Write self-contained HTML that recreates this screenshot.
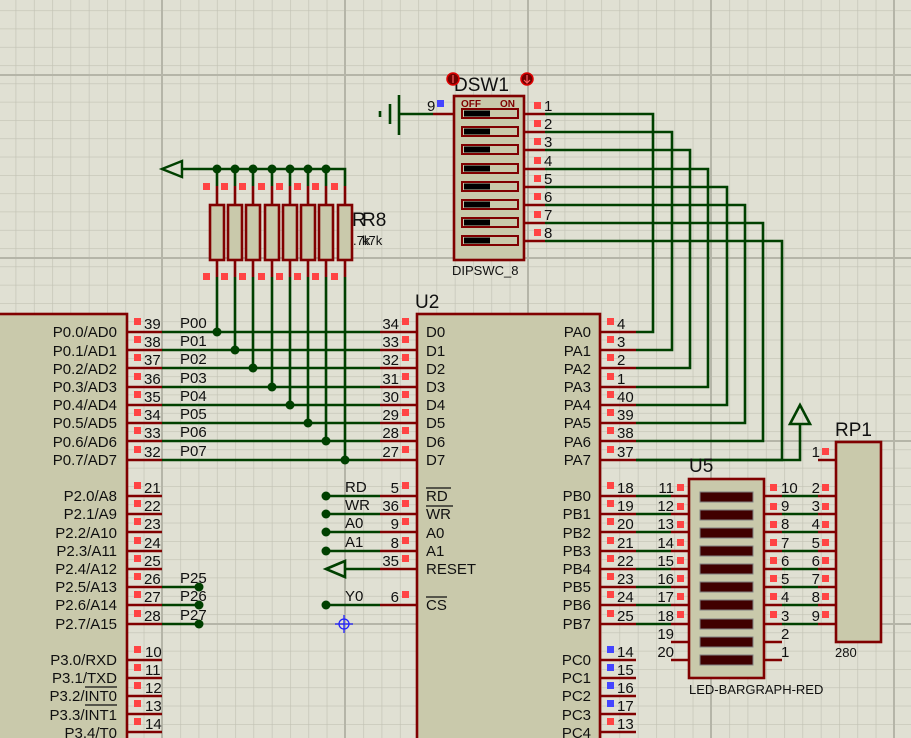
<!DOCTYPE html>
<html><head><meta charset="utf-8"><style>
html,body{margin:0;padding:0;background:#e0e0d3;}
svg{display:block;font-family:"Liberation Sans",sans-serif;}
.g{stroke:#004000;stroke-width:2.6;fill:none}
.r{stroke:#800000;stroke-width:2.6;fill:none}
.sq{fill:#ff4444}
.bq{fill:#4444ff}
text{fill:#101010}
.l{font-size:15px}
.n{font-size:15px}
.e{text-anchor:end}
</style></head><body>
<svg width="911" height="738" viewBox="0 0 911 738" xmlns="http://www.w3.org/2000/svg">
<defs>
<pattern id="fg" x="-21" y="-8" width="18.3" height="18.3" patternUnits="userSpaceOnUse">
<path d="M0 0H18.3M0 0V18.3" stroke="#c2c2b4" stroke-width="1.3" fill="none"/>
</pattern>
</defs>
<rect width="911" height="738" fill="#e0e0d3"/>
<rect width="911" height="738" fill="url(#fg)"/>
<g stroke="#b5b5a8" stroke-width="2">
<line x1="162" y1="0" x2="162" y2="738"/><line x1="345" y1="0" x2="345" y2="738"/><line x1="528" y1="0" x2="528" y2="738"/><line x1="711" y1="0" x2="711" y2="738"/><line x1="894" y1="0" x2="894" y2="738"/>
<line x1="0" y1="75" x2="911" y2="75"/><line x1="0" y1="258" x2="911" y2="258"/><line x1="0" y1="441" x2="911" y2="441"/><line x1="0" y1="624" x2="911" y2="624"/>
</g>

<!-- U1 -->
<rect x="-10" y="314" width="137" height="440" fill="#c9c9ab" stroke="#800000" stroke-width="2.6"/>
<g class="r">
<path d="M127 332H162M127 350H162M127 368H162M127 387H162M127 405H162M127 423H162M127 441H162M127 460H162"/>
<path d="M127 496H162M127 514H162M127 532H162M127 551H162M127 569H162M127 587H162M127 605H162M127 624H162"/>
<path d="M127 660H162M127 678H162M127 696H162M127 714H162M127 732H162"/>
</g>
<g class="sq">
<rect x="134" y="318" width="7" height="7"/><rect x="134" y="336" width="7" height="7"/><rect x="134" y="354" width="7" height="7"/><rect x="134" y="373" width="7" height="7"/><rect x="134" y="391" width="7" height="7"/><rect x="134" y="409" width="7" height="7"/><rect x="134" y="427" width="7" height="7"/><rect x="134" y="446" width="7" height="7"/>
<rect x="134" y="482" width="7" height="7"/><rect x="134" y="500" width="7" height="7"/><rect x="134" y="518" width="7" height="7"/><rect x="134" y="537" width="7" height="7"/><rect x="134" y="555" width="7" height="7"/><rect x="134" y="573" width="7" height="7"/><rect x="134" y="591" width="7" height="7"/><rect x="134" y="610" width="7" height="7"/>
<rect x="134" y="646" width="7" height="7"/><rect x="134" y="664" width="7" height="7"/><rect x="134" y="682" width="7" height="7"/><rect x="134" y="700" width="7" height="7"/><rect x="134" y="718" width="7" height="7"/>
</g>
<g class="n">
<text x="144" y="329">39</text><text x="144" y="347">38</text><text x="144" y="365">37</text><text x="144" y="384">36</text><text x="144" y="402">35</text><text x="144" y="420">34</text><text x="144" y="438">33</text><text x="144" y="457">32</text>
<text x="144" y="493">21</text><text x="144" y="511">22</text><text x="144" y="529">23</text><text x="144" y="548">24</text><text x="144" y="566">25</text><text x="144" y="584">26</text><text x="144" y="602">27</text><text x="144" y="621">28</text>
<text x="145" y="657">10</text><text x="145" y="675">11</text><text x="145" y="693">12</text><text x="145" y="711">13</text><text x="145" y="729">14</text>
</g>
<g class="l e">
<text x="117" y="337">P0.0/AD0</text><text x="117" y="356">P0.1/AD1</text><text x="117" y="374">P0.2/AD2</text><text x="117" y="392">P0.3/AD3</text><text x="117" y="410">P0.4/AD4</text><text x="117" y="428">P0.5/AD5</text><text x="117" y="447">P0.6/AD6</text><text x="117" y="465">P0.7/AD7</text>
<text x="117" y="501">P2.0/A8</text><text x="117" y="519">P2.1/A9</text><text x="117" y="538">P2.2/A10</text><text x="117" y="556">P2.3/A11</text><text x="117" y="574">P2.4/A12</text><text x="117" y="592">P2.5/A13</text><text x="117" y="610">P2.6/A14</text><text x="117" y="629">P2.7/A15</text>
<text x="117" y="665">P3.0/RXD</text><text x="117" y="683">P3.1/TXD</text><text x="117" y="701">P3.2/INT0</text><text x="117" y="720">P3.3/INT1</text><text x="117" y="738">P3.4/T0</text>
</g>
<path d="M85 687H117M85 705H117" stroke="#101010" stroke-width="1.2"/>

<!-- P0 bus wires -->
<g class="g">
<path d="M162 332H380M162 350H380M162 368H380M162 387H380M162 405H380M162 423H380M162 441H380M162 460H380"/>
<path d="M217 277V332M235 277V350M253 277V368M272 277V387M290 277V405M308 277V423M326 277V441M345 277V460"/>
<path d="M182 169H345V186M217 169V186M235 169V186M253 169V186M272 169V186M290 169V186M308 169V186M326 169V186"/>
<path d="M162 169L182 161V177Z" stroke-width="2.4"/>
<path d="M162 587H199M162 605H199M162 624H199"/>
<path d="M326 496H380M326 514H380M326 532H380M326 551H380M345 569H380M326 605H380"/>
<path d="M326 569L345 561V577Z"/>
</g>
<g fill="#004000">
<circle cx="217" cy="332" r="4.5"/><circle cx="235" cy="350" r="4.5"/><circle cx="253" cy="368" r="4.5"/><circle cx="272" cy="387" r="4.5"/><circle cx="290" cy="405" r="4.5"/><circle cx="308" cy="423" r="4.5"/><circle cx="326" cy="441" r="4.5"/><circle cx="345" cy="460" r="4.5"/>
<circle cx="217" cy="169" r="4.5"/><circle cx="235" cy="169" r="4.5"/><circle cx="253" cy="169" r="4.5"/><circle cx="272" cy="169" r="4.5"/><circle cx="290" cy="169" r="4.5"/><circle cx="308" cy="169" r="4.5"/><circle cx="326" cy="169" r="4.5"/>
<circle cx="199" cy="587" r="4.5"/><circle cx="199" cy="605" r="4.5"/><circle cx="199" cy="624" r="4.5"/>
<circle cx="326" cy="496" r="4.5"/><circle cx="326" cy="514" r="4.5"/><circle cx="326" cy="532" r="4.5"/><circle cx="326" cy="551" r="4.5"/><circle cx="326" cy="605" r="4.5"/>
</g>
<g class="l">
<text x="180" y="328">P00</text><text x="180" y="346">P01</text><text x="180" y="364">P02</text><text x="180" y="383">P03</text><text x="180" y="401">P04</text><text x="180" y="419">P05</text><text x="180" y="437">P06</text><text x="180" y="456">P07</text>
<text x="180" y="583">P25</text><text x="180" y="601">P26</text><text x="180" y="620">P27</text>
<text x="345" y="492">RD</text><text x="345" y="510">WR</text><text x="345" y="528">A0</text><text x="345" y="547">A1</text><text x="345" y="601">Y0</text>
</g>

<!-- Resistors -->
<g class="r">
<path d="M217 186V205M235 186V205M253 186V205M272 186V205M290 186V205M308 186V205M326 186V205M345 186V205"/>
<path d="M217 260V277M235 260V277M253 260V277M272 260V277M290 260V277M308 260V277M326 260V277M345 260V277"/>
</g>
<g fill="#c9c9ab" stroke="#800000" stroke-width="2.6">
<rect x="210" y="205" width="14" height="55"/><rect x="228" y="205" width="14" height="55"/><rect x="246" y="205" width="14" height="55"/><rect x="265" y="205" width="14" height="55"/><rect x="283" y="205" width="14" height="55"/><rect x="301" y="205" width="14" height="55"/><rect x="319" y="205" width="14" height="55"/><rect x="338" y="205" width="14" height="55"/>
</g>
<g class="sq">
<rect x="203" y="183" width="7" height="7"/><rect x="221" y="183" width="7" height="7"/><rect x="239" y="183" width="7" height="7"/><rect x="258" y="183" width="7" height="7"/><rect x="276" y="183" width="7" height="7"/><rect x="294" y="183" width="7" height="7"/><rect x="312" y="183" width="7" height="7"/><rect x="331" y="183" width="7" height="7"/>
<rect x="203" y="273" width="7" height="7"/><rect x="221" y="273" width="7" height="7"/><rect x="239" y="273" width="7" height="7"/><rect x="258" y="273" width="7" height="7"/><rect x="276" y="273" width="7" height="7"/><rect x="294" y="273" width="7" height="7"/><rect x="312" y="273" width="7" height="7"/><rect x="331" y="273" width="7" height="7"/>
</g>
<text x="352" y="226" style="font-size:19px">R</text><text x="362" y="226" style="font-size:19px">R8</text>
<text x="353" y="245" style="font-size:13px">.7k</text><text x="362" y="245" style="font-size:13px">k7k</text>

<!-- U2 -->
<rect x="417" y="314" width="183" height="440" fill="#c9c9ab" stroke="#800000" stroke-width="2.6"/>
<text x="415" y="308" style="font-size:19px">U2</text>
<g class="r">
<path d="M380 332H417M380 350H417M380 368H417M380 387H417M380 405H417M380 423H417M380 441H417M380 460H417"/>
<path d="M380 496H417M380 514H417M380 532H417M380 551H417M380 569H417M380 605H417"/>
<path d="M600 332H636M600 350H636M600 368H636M600 387H636M600 405H636M600 423H636M600 441H636M600 460H636"/>
<path d="M600 496H636M600 514H636M600 532H636M600 551H636M600 569H636M600 587H636M600 605H636M600 624H636"/>
<path d="M600 660H636M600 678H636M600 696H636M600 714H636M600 732H636"/>
</g>
<g class="sq">
<rect x="402" y="318" width="7" height="7"/><rect x="402" y="336" width="7" height="7"/><rect x="402" y="354" width="7" height="7"/><rect x="402" y="373" width="7" height="7"/><rect x="402" y="391" width="7" height="7"/><rect x="402" y="409" width="7" height="7"/><rect x="402" y="427" width="7" height="7"/><rect x="402" y="446" width="7" height="7"/>
<rect x="402" y="482" width="7" height="7"/><rect x="402" y="500" width="7" height="7"/><rect x="402" y="518" width="7" height="7"/><rect x="402" y="537" width="7" height="7"/><rect x="402" y="555" width="7" height="7"/><rect x="402" y="591" width="7" height="7"/>
<rect x="607" y="318" width="7" height="7"/><rect x="607" y="336" width="7" height="7"/><rect x="607" y="354" width="7" height="7"/><rect x="607" y="373" width="7" height="7"/><rect x="607" y="391" width="7" height="7"/><rect x="607" y="409" width="7" height="7"/><rect x="607" y="427" width="7" height="7"/><rect x="607" y="446" width="7" height="7"/>
<rect x="607" y="482" width="7" height="7"/><rect x="607" y="500" width="7" height="7"/><rect x="607" y="518" width="7" height="7"/><rect x="607" y="537" width="7" height="7"/><rect x="607" y="555" width="7" height="7"/><rect x="607" y="573" width="7" height="7"/><rect x="607" y="591" width="7" height="7"/><rect x="607" y="610" width="7" height="7"/>
<rect x="607" y="718" width="7" height="7"/>
</g>
<g class="bq"><rect x="607" y="646" width="7" height="7"/><rect x="607" y="664" width="7" height="7"/><rect x="607" y="682" width="7" height="7"/><rect x="607" y="700" width="7" height="7"/></g>
<g class="n e">
<text x="399" y="329">34</text><text x="399" y="347">33</text><text x="399" y="365">32</text><text x="399" y="384">31</text><text x="399" y="402">30</text><text x="399" y="420">29</text><text x="399" y="438">28</text><text x="399" y="457">27</text>
<text x="399" y="493">5</text><text x="399" y="511">36</text><text x="399" y="529">9</text><text x="399" y="548">8</text><text x="399" y="566">35</text><text x="399" y="602">6</text>
</g>
<g class="n">
<text x="617" y="329">4</text><text x="617" y="347">3</text><text x="617" y="365">2</text><text x="617" y="384">1</text><text x="617" y="402">40</text><text x="617" y="420">39</text><text x="617" y="438">38</text><text x="617" y="457">37</text>
<text x="617" y="493">18</text><text x="617" y="511">19</text><text x="617" y="529">20</text><text x="617" y="548">21</text><text x="617" y="566">22</text><text x="617" y="584">23</text><text x="617" y="602">24</text><text x="617" y="621">25</text>
<text x="617" y="657">14</text><text x="617" y="675">15</text><text x="617" y="693">16</text><text x="617" y="711">17</text><text x="617" y="729">13</text>
</g>
<g class="l">
<text x="426" y="337">D0</text><text x="426" y="356">D1</text><text x="426" y="374">D2</text><text x="426" y="392">D3</text><text x="426" y="410">D4</text><text x="426" y="428">D5</text><text x="426" y="447">D6</text><text x="426" y="465">D7</text>
<text x="426" y="501">RD</text><text x="426" y="519">WR</text><text x="426" y="538">A0</text><text x="426" y="556">A1</text><text x="426" y="574">RESET</text><text x="426" y="610">CS</text>
</g>
<path d="M426 488H451M426 506H453M426 597H447" stroke="#101010" stroke-width="1.2"/>
<g class="l e">
<text x="591" y="337">PA0</text><text x="591" y="356">PA1</text><text x="591" y="374">PA2</text><text x="591" y="392">PA3</text><text x="591" y="410">PA4</text><text x="591" y="428">PA5</text><text x="591" y="447">PA6</text><text x="591" y="465">PA7</text>
<text x="591" y="501">PB0</text><text x="591" y="519">PB1</text><text x="591" y="538">PB2</text><text x="591" y="556">PB3</text><text x="591" y="574">PB4</text><text x="591" y="592">PB5</text><text x="591" y="610">PB6</text><text x="591" y="629">PB7</text>
<text x="591" y="665">PC0</text><text x="591" y="683">PC1</text><text x="591" y="701">PC2</text><text x="591" y="720">PC3</text><text x="591" y="738">PC4</text>
</g>
<!-- crosshair -->
<g stroke="#2020ff" stroke-width="1.3" fill="none"><circle cx="344" cy="624" r="5"/><path d="M335 624H353M344 615V633"/></g>

<!-- DSW1 -->
<g class="g">
<path d="M545 114H653V332H636M545 132H672V350H636M545 150H690V368H636M545 169H708V387H636M545 187H727V405H636M545 205H745V423H636M545 223H763V441H636M545 241H782V460H636"/>
<path d="M399 114H433M399 95V135M390 104V124M380 111V117"/>
</g>
<path d="M433 114H453" class="r"/>
<rect x="437" y="100" width="7" height="7" class="bq"/>
<text x="427" y="111" class="n">9</text>
<rect x="454" y="96" width="70" height="164" fill="#c9c9ab" stroke="#800000" stroke-width="2.6"/>
<text x="461" y="107" style="font-size:10px;font-weight:bold;fill:#800000">OFF</text>
<text x="500" y="107" style="font-size:10px;font-weight:bold;fill:#800000">ON</text>
<g stroke="#800000" stroke-width="2" fill="#c9c9ab">
<rect x="462" y="109" width="56" height="9"/><rect x="462" y="127" width="56" height="9"/><rect x="462" y="145" width="56" height="9"/><rect x="462" y="164" width="56" height="9"/><rect x="462" y="182" width="56" height="9"/><rect x="462" y="200" width="56" height="9"/><rect x="462" y="218" width="56" height="9"/><rect x="462" y="236" width="56" height="9"/>
</g>
<g fill="#000">
<rect x="464" y="110.5" width="26" height="6"/><rect x="464" y="128.5" width="26" height="6"/><rect x="464" y="146.5" width="26" height="6"/><rect x="464" y="165.5" width="26" height="6"/><rect x="464" y="183.5" width="26" height="6"/><rect x="464" y="201.5" width="26" height="6"/><rect x="464" y="219.5" width="26" height="6"/><rect x="464" y="237.5" width="26" height="6"/>
</g>
<g class="r"><path d="M524 114H545M524 132H545M524 150H545M524 169H545M524 187H545M524 205H545M524 223H545M524 241H545"/></g>
<g class="sq">
<rect x="534" y="102" width="7" height="7"/><rect x="534" y="120" width="7" height="7"/><rect x="534" y="138" width="7" height="7"/><rect x="534" y="157" width="7" height="7"/><rect x="534" y="175" width="7" height="7"/><rect x="534" y="193" width="7" height="7"/><rect x="534" y="211" width="7" height="7"/><rect x="534" y="229" width="7" height="7"/>
</g>
<g class="n">
<text x="544" y="111">1</text><text x="544" y="129">2</text><text x="544" y="147">3</text><text x="544" y="166">4</text><text x="544" y="184">5</text><text x="544" y="202">6</text><text x="544" y="220">7</text><text x="544" y="238">8</text>
</g>
<text x="454" y="91" style="font-size:19px">DSW1</text>
<text x="452" y="275" style="font-size:13px">DIPSWC_8</text>
<circle cx="453" cy="79" r="6" fill="#700000" stroke="#e00000" stroke-width="1.5"/>
<circle cx="527" cy="79" r="6" fill="#700000" stroke="#e00000" stroke-width="1.5"/>
<path d="M453 75V83M527 75V83M524 80L527 83L530 80" stroke="#ff6060" stroke-width="1.2" fill="none"/>

<!-- U5 -->
<g class="g">
<path d="M636 496H671M636 514H671M636 532H671M636 551H671M636 569H671M636 587H671M636 605H671M636 624H671"/>
<path d="M782 496H818M782 514H818M782 532H818M782 551H818M782 569H818M782 587H818M782 605H818M782 624H818"/>
<path d="M636 460H800V424M800 405L790 424H810Z"/>
</g>
<g class="r">
<path d="M671 496H689M671 514H689M671 532H689M671 551H689M671 569H689M671 587H689M671 605H689M671 624H689M671 642H689M671 660H689"/>
<path d="M764 496H782M764 514H782M764 532H782M764 551H782M764 569H782M764 587H782M764 605H782M764 624H782M764 642H782M764 660H782"/>
<path d="M818 460H836M818 496H836M818 514H836M818 532H836M818 551H836M818 569H836M818 587H836M818 605H836M818 624H836"/>
</g>
<rect x="689" y="479" width="75" height="199" fill="#c9c9ab" stroke="#800000" stroke-width="2.6"/>
<g fill="#400000" stroke="#808080" stroke-width="1">
<rect x="700" y="492" width="53" height="10"/><rect x="700" y="510" width="53" height="10"/><rect x="700" y="528" width="53" height="10"/><rect x="700" y="546" width="53" height="10"/><rect x="700" y="564" width="53" height="10"/><rect x="700" y="582" width="53" height="10"/><rect x="700" y="600" width="53" height="10"/><rect x="700" y="619" width="53" height="10"/><rect x="700" y="637" width="53" height="10"/><rect x="700" y="655" width="53" height="10"/>
</g>
<g class="sq">
<rect x="677" y="484" width="7" height="7"/><rect x="677" y="503" width="7" height="7"/><rect x="677" y="521" width="7" height="7"/><rect x="677" y="539" width="7" height="7"/><rect x="677" y="557" width="7" height="7"/><rect x="677" y="575" width="7" height="7"/><rect x="677" y="593" width="7" height="7"/><rect x="677" y="611" width="7" height="7"/>
<rect x="770" y="484" width="7" height="7"/><rect x="770" y="503" width="7" height="7"/><rect x="770" y="521" width="7" height="7"/><rect x="770" y="539" width="7" height="7"/><rect x="770" y="557" width="7" height="7"/><rect x="770" y="575" width="7" height="7"/><rect x="770" y="593" width="7" height="7"/><rect x="770" y="611" width="7" height="7"/>
<rect x="822" y="448" width="7" height="7"/><rect x="822" y="484" width="7" height="7"/><rect x="822" y="503" width="7" height="7"/><rect x="822" y="521" width="7" height="7"/><rect x="822" y="539" width="7" height="7"/><rect x="822" y="557" width="7" height="7"/><rect x="822" y="575" width="7" height="7"/><rect x="822" y="593" width="7" height="7"/><rect x="822" y="611" width="7" height="7"/>
</g>
<g class="n e">
<text x="674" y="493">11</text><text x="674" y="511">12</text><text x="674" y="529">13</text><text x="674" y="548">14</text><text x="674" y="566">15</text><text x="674" y="584">16</text><text x="674" y="602">17</text><text x="674" y="621">18</text><text x="674" y="639">19</text><text x="674" y="657">20</text>
<text x="820" y="457">1</text><text x="820" y="493">2</text><text x="820" y="511">3</text><text x="820" y="529">4</text><text x="820" y="548">5</text><text x="820" y="566">6</text><text x="820" y="584">7</text><text x="820" y="602">8</text><text x="820" y="621">9</text>
</g>
<g class="n">
<text x="781" y="493">10</text><text x="781" y="511">9</text><text x="781" y="529">8</text><text x="781" y="548">7</text><text x="781" y="566">6</text><text x="781" y="584">5</text><text x="781" y="602">4</text><text x="781" y="621">3</text><text x="781" y="639">2</text><text x="781" y="657">1</text>
</g>
<text x="689" y="472" style="font-size:19px">U5</text>
<text x="689" y="694" style="font-size:13px">LED-BARGRAPH-RED</text>
<!-- RP1 -->
<rect x="836" y="442" width="45" height="200" fill="#c9c9ab" stroke="#800000" stroke-width="2.6"/>
<text x="835" y="436" style="font-size:19px">RP1</text>
<text x="835" y="657" style="font-size:13px">280</text>
</svg>
</body></html>
